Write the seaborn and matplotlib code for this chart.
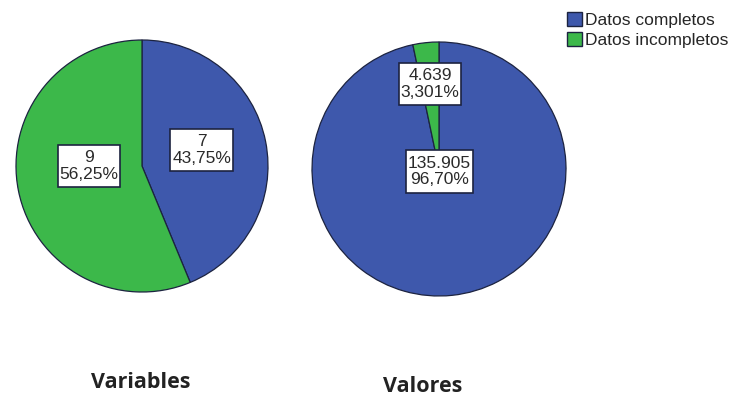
import matplotlib
matplotlib.use("Agg")
import matplotlib.pyplot as plt
import seaborn as sns
from matplotlib.patches import Patch
from matplotlib.path import Path
import numpy as np

# Data
categories = ["Datos completos", "Datos incompletos"]
variables_counts = [7, 9]
variables_pct = ["43,75%", "56,25%"]
valores_counts = ["135.905", "4.639"]
valores_values = [135905, 4639]
valores_pct = ["96,70%", "3,301%"]
titles = ["Variables", "Valores"]

colors = ["#3e58ac", "#3cb84a"]
edge = "#1c2340"

sns.set_theme(style="white")
plt.rcParams["font.family"] = ["Liberation Sans", "DejaVu Sans"]


def label_box(x0, y0, width, height, mutation_size):
    """Rectangle with tight sides and roomier top/bottom padding."""
    px, py = 0.1 * mutation_size, 0.3 * mutation_size
    x0, y0 = x0 - px, y0 - py
    x1, y1 = x0 + width + 2 * px, y0 + height + 2 * py
    return Path([(x0, y0), (x1, y0), (x1, y1), (x0, y1), (x0, y0)], closed=True)


fig = plt.figure(figsize=(7.29, 3.98), dpi=100)
fig.patch.set_facecolor("white")


def draw_pie(rect, values, counts, pcts, dists, nudges):
    ax = fig.add_axes(rect)
    wedges, _ = ax.pie(values, colors=colors, startangle=90, counterclock=False,
                       wedgeprops=dict(edgecolor=edge, linewidth=0.9))
    for w, c, p, d, nd in zip(wedges, counts, pcts, dists, nudges):
        ang = np.deg2rad((w.theta1 + w.theta2) / 2)
        x, y = d * np.cos(ang), d * np.sin(ang)
        ax.annotate(f"{c}\n{p}", xy=(x, y), xytext=nd, textcoords="offset points",
                    ha="center", va="center", fontsize=12.5,
                    linespacing=1.15, color="#2a2a2a",
                    bbox=dict(boxstyle=label_box, facecolor="white",
                              edgecolor=edge, linewidth=1.2))
    ax.set_xlim(-1.0, 1.0)
    ax.set_ylim(-1.0, 1.0)
    ax.set_aspect("equal")
    ax.axis("off")
    return ax


draw_pie([16 / 729, 1 - 292 / 398, 252 / 729, 252 / 398],
         variables_counts, variables_counts, variables_pct, [0.49, 0.43],
         [(-0.7, 3.0), (0, 7.5)])
draw_pie([312 / 729, 1 - 296 / 398, 254 / 729, 254 / 398],
         valores_values, valores_counts, valores_pct, [0.02, 0.67],
         [(0, 0), (0, 0)])

fig.text(141 / 729, 1 - 382 / 398, titles[0], ha="center", va="center",
         fontsize=15.5, fontweight="bold", family=["Open Sans", "DejaVu Sans"],
         color="#222222")
fig.text(423 / 729, 1 - 386 / 398, titles[1], ha="center", va="center",
         fontsize=15.5, fontweight="bold", family=["Open Sans", "DejaVu Sans"],
         color="#222222")

handles = [Patch(facecolor=c, edgecolor=edge, linewidth=1.0) for c in colors]
fig.legend(handles, categories, loc="upper left",
           bbox_to_anchor=(567 / 729, 1 - 12 / 398), frameon=False,
           fontsize=12.5, handlelength=0.85, handleheight=0.85, handletextpad=0.2,
           labelspacing=0.22, borderpad=0.0, borderaxespad=0.0)

fig.savefig("out.png", dpi=100, facecolor="white")
